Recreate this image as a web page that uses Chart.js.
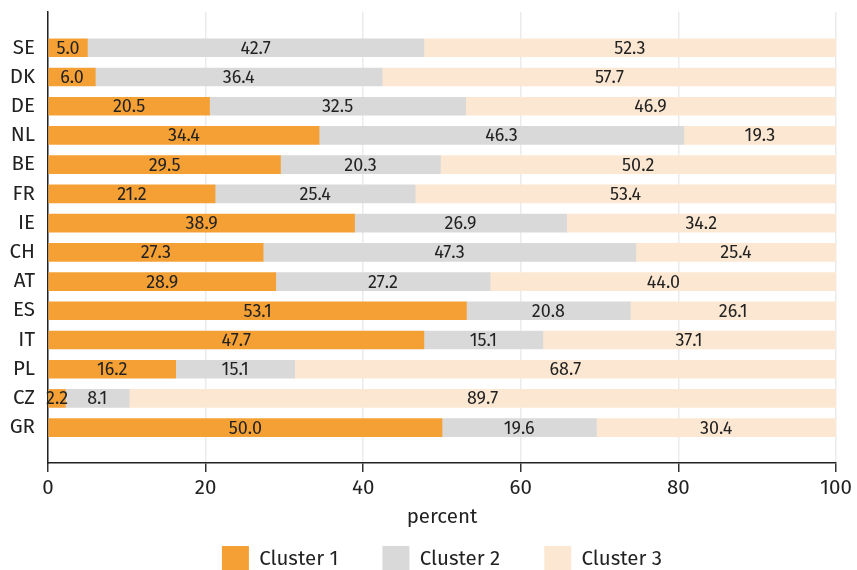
<!DOCTYPE html>
<html>
<head>
<meta charset="utf-8">
<script src="https://cdn.jsdelivr.net/npm/chart.js@4/dist/chart.umd.min.js"></script>
<style>
  html, body { margin: 0; padding: 0; background: #ffffff; }
  #wrap { width: 857px; height: 570px; }
</style>
</head>
<body>
<div id="wrap"><canvas id="c" width="857" height="570"></canvas></div>
<script>
const countries = ['SE','DK','DE','NL','BE','FR','IE','CH','AT','ES','IT','PL','CZ','GR'];
const cluster1 = [5.0, 6.0, 20.5, 34.4, 29.5, 21.2, 38.9, 27.3, 28.9, 53.1, 47.7, 16.2, 2.2, 50.0];
const cluster2 = [42.7, 36.4, 32.5, 46.3, 20.3, 25.4, 26.9, 47.3, 27.2, 20.8, 15.1, 15.1, 8.1, 19.6];
const cluster3 = [52.3, 57.7, 46.9, 19.3, 50.2, 53.4, 34.2, 25.4, 44.0, 26.1, 37.1, 68.7, 89.7, 30.4];
const seriesNames = ['Cluster 1', 'Cluster 2', 'Cluster 3'];
const xTickValues = [0, 20, 40, 60, 80, 100];
const xTitle = 'percent';

const FONT = "'Fira Sans', 'Open Sans', sans-serif";
const colors = ['#F5A034', '#D9D9D9', '#FCE8D2'];

function toPoints(arr) { return arr.map((v, i) => ({ x: v, y: i })); }

const valueLabels = {
  id: 'valueLabels',
  afterDatasetsDraw(chart) {
    const ctx = chart.ctx;
    ctx.save();
    ctx.font = "18px " + FONT;
    ctx.fillStyle = '#222222';
    ctx.textAlign = 'center';
    ctx.textBaseline = 'middle';
    chart.data.datasets.forEach((ds, di) => {
      const meta = chart.getDatasetMeta(di);
      meta.data.forEach((bar, i) => {
        const p = bar.getProps(['x', 'base', 'y'], true);
        ctx.fillText(ds.data[i].x.toFixed(1), (p.x + p.base) / 2, p.y + 1);
      });
    });
    ctx.restore();
  }
};

const legendPlacement = {
  id: 'legendPlacement',
  afterLayout(chart) {
    const lg = chart.legend;
    const pad = lg.options.labels.padding;
    lg.left = chart.chartArea.left;
    lg.right = chart.chartArea.right;
    lg.top = chart.chartArea.bottom + 83 - pad;
  }
};

Chart.defaults.font.family = FONT;
Chart.defaults.color = '#222222';

new Chart(document.getElementById('c'), {
  type: 'bar',
  data: {
    datasets: [
      { label: seriesNames[0], data: toPoints(cluster1), backgroundColor: colors[0] },
      { label: seriesNames[1], data: toPoints(cluster2), backgroundColor: colors[1] },
      { label: seriesNames[2], data: toPoints(cluster3), backgroundColor: colors[2] }
    ]
  },
  options: {
    indexAxis: 'y',
    responsive: false,
    animation: false,
    barThickness: 18,
    layout: { padding: { top: 12, right: 21, left: 0, bottom: 0 } },
    scales: {
      x: {
        type: 'linear',
        stacked: true,
        min: 0,
        max: 100,
        afterBuildTicks(scale) { scale.ticks = xTickValues.map(v => ({ value: v })); },
        afterFit(scale) { scale.height = 70; scale.paddingLeft = 0; scale.paddingRight = 0; },
        ticks: { font: { size: 20.5 }, color: '#222222', padding: 4 },
        grid: { color: '#EBEBEB', lineWidth: 1.5, tickColor: '#333333', tickLength: 9, offset: false },
        border: { color: '#222222', width: 1.5 },
        title: { display: true, text: xTitle, font: { size: 20.5 }, color: '#222222', padding: { top: 0, bottom: 3 } }
      },
      y: {
        type: 'linear',
        stacked: true,
        reverse: true,
        offset: false,
        bounds: 'data',
        min: -1.225,
        max: 14.21,
        afterBuildTicks(scale) { scale.ticks = countries.map((c, i) => ({ value: i })); },
        afterFit(scale) { scale.width = 48; scale.paddingTop = 0; scale.paddingBottom = 0; },
        ticks: {
          autoSkip: false,
          font: { size: 20.5 },
          color: '#222222',
          padding: 13,
          callback: (v) => countries[v] ?? ''
        },
        grid: { display: false, drawTicks: false },
        border: { color: '#222222', width: 1.5 }
      }
    },
    plugins: {
      legend: {
        position: 'bottom',
        maxHeight: 37,
        labels: {
          boxWidth: 27,
          boxHeight: 27,
          padding: 44,
          font: { size: 20.5 },
          color: '#222222'
        }
      },
      tooltip: { enabled: false }
    }
  },
  plugins: [valueLabels, legendPlacement]
});
</script>
</body>
</html>
